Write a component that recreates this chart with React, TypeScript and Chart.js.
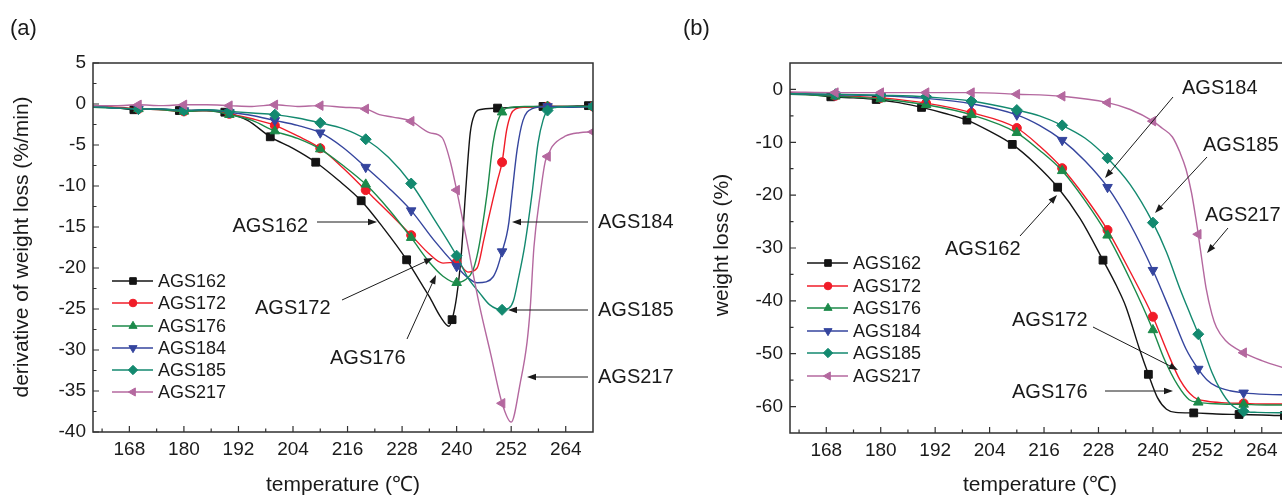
import React, { useEffect, useRef } from 'react';
import { Chart, registerables } from 'chart.js';
import { drawPoint } from 'chart.js/helpers';

Chart.register(...registerables);

const FONT = '"Liberation Sans", Arial, Helvetica, sans-serif';

const SERIES = ['AGS162', 'AGS172', 'AGS176', 'AGS184', 'AGS185', 'AGS217'];
const COLORS = ['#141414', '#f01c28', '#1c8a4a', '#35459e', '#13896f', '#b4689f'];
const STYLES = ['rect', 'circle', 'triangle', 'triangle', 'rectRot', 'triangle'];
const ROTATIONS = [0, 0, 0, 180, 0, 270];
const RADII = [5.5, 4.5, 5.5, 5.5, 5.5, 5.5];

const MARKS_BLACK = [169, 179, 189, 199, 209, 219, 229, 239, 249, 259, 269];
const MARKS = [170, 180, 190, 200, 210, 220, 230, 240, 250, 260, 270];

const X_TICKS = [168, 180, 192, 204, 216, 228, 240, 252, 264];
const Y_TICKS_A = [5, 0, -5, -10, -15, -20, -25, -30, -35, -40];
const Y_TICKS_B = [0, -10, -20, -30, -40, -50, -60];

// ---------- panel (a): derivative of weight loss (%/min) ----------
const A_T_162 = [160, 164, 169, 174, 179, 184, 189, 194, 199, 204, 209, 214, 219, 224, 229, 232, 234, 236.5, 238.3, 239, 240, 241, 242, 243, 244, 245, 249, 254, 259, 264, 269, 270];
const A_V_162 = [-0.3, -0.4, -0.7, -0.6, -0.8, -0.8, -1.0, -2.0, -4.0, -5.4, -7.1, -9.3, -11.8, -15.2, -19.0, -21.7, -23.5, -26.0, -27.1, -26.3, -23.5, -18.5, -10.5, -3.5, -1.2, -0.7, -0.5, -0.4, -0.3, -0.3, -0.2, -0.2];

const A_T_172 = [160, 165, 170, 175, 180, 185, 190, 195, 200, 205, 210, 215, 220, 225, 230, 234, 237, 240, 242.5, 244.5, 246, 247, 248, 249, 250, 251, 252, 253, 255, 260, 265, 270];
const A_V_172 = [-0.4, -0.4, -0.6, -0.7, -0.9, -0.8, -1.2, -1.8, -2.6, -3.9, -5.4, -7.8, -10.5, -13.2, -16.0, -18.3, -19.4, -19.3, -20.5, -20.0, -16.5, -14.0, -11.6, -9.3, -7.1, -3.2, -1.2, -0.6, -0.4, -0.3, -0.3, -0.3];

const A_T_176 = [160, 165, 170, 175, 180, 185, 190, 195, 200, 205, 210, 215, 220, 225, 230, 234, 237, 240, 242, 243.5, 244.5, 245.5, 246.7, 248, 249, 250, 251, 255, 260, 265, 270];
const A_V_176 = [-0.4, -0.5, -0.6, -0.7, -0.9, -0.8, -1.3, -2.0, -3.3, -4.2, -5.5, -7.5, -9.8, -12.8, -16.3, -19.3, -21.0, -21.8, -21.4, -20.4, -18.5, -15.5, -10.9, -4.8, -2.2, -1.0, -0.5, -0.3, -0.3, -0.3, -0.3];

const A_T_184 = [160, 165, 170, 175, 180, 185, 190, 195, 200, 205, 210, 215, 220, 225, 230, 235, 240, 242.5, 244.5, 246.5, 248, 249, 250, 251, 251.5, 252.2, 253.3, 254.6, 256.5, 260, 265, 270];
const A_V_184 = [-0.3, -0.5, -0.6, -0.6, -0.8, -0.7, -1.0, -1.4, -2.0, -2.6, -3.5, -5.3, -7.7, -10.2, -13.0, -16.6, -19.8, -21.2, -21.8, -21.7, -21.1, -19.9, -18.0, -16.0, -14.4, -10.9, -5.6, -2.0, -0.6, -0.3, -0.4, -0.3];

const A_T_185 = [160, 165, 170, 175, 180, 185, 190, 195, 200, 205, 210, 215, 220, 225, 230, 235, 240, 242.5, 245, 247.3, 250, 251.5, 252.5, 253.5, 255, 256.6, 257.9, 259, 260, 262, 265, 270];
const A_V_185 = [-0.3, -0.5, -0.6, -0.6, -0.8, -0.7, -0.9, -1.1, -1.3, -1.7, -2.3, -3.0, -4.3, -6.5, -9.7, -14.0, -18.5, -21.2, -23.0, -24.5, -25.1, -24.9, -24.0, -21.5, -17.2, -10.9, -4.8, -2.0, -0.8, -0.4, -0.3, -0.3];

const A_T_217 = [160, 165, 170, 175, 180, 185, 190, 195, 200, 205, 210, 215, 220, 223, 226, 230, 234, 236.8, 238.5, 240, 242, 245, 247.5, 250, 252, 254, 255.5, 256.2, 257, 258.4, 259.5, 260, 261, 264, 267, 270];
const A_V_217 = [-0.2, -0.2, -0.1, -0.2, -0.1, -0.1, -0.2, -0.3, -0.1, -0.3, -0.2, -0.4, -0.6, -1.3, -1.6, -2.1, -3.5, -4.1, -6.8, -10.5, -16.0, -24.5, -30.5, -36.5, -38.8, -34.0, -29.0, -24.8, -17.5, -11.0, -7.0, -6.4, -5.2, -3.9, -3.5, -3.4];

// ---------- panel (b): weight loss (%) ----------
const B_T_162 = [160, 164, 169, 174, 179, 184, 189, 194, 199, 204, 209, 214, 219, 224, 229, 232, 234, 237, 239, 241, 243, 245, 249, 254, 259, 264, 269, 270];
const B_V_162 = [-0.6, -0.9, -1.4, -1.6, -1.9, -2.5, -3.4, -4.5, -5.8, -7.9, -10.4, -14.0, -18.5, -24.5, -32.3, -37.2, -41.0, -49.0, -53.9, -58.3, -60.5, -61.1, -61.2, -61.4, -61.5, -61.6, -61.7, -61.7];

const B_T_172 = [160, 170, 180, 190, 200, 210, 215, 220, 225, 230, 235, 240, 243, 246, 249, 252, 256, 260, 265, 270];
const B_V_172 = [-0.8, -1.2, -1.6, -2.6, -4.4, -7.3, -10.7, -14.9, -20.3, -26.6, -34.5, -43.0, -49.3, -55.0, -58.2, -59.0, -59.3, -59.4, -59.5, -59.5];

const B_T_176 = [160, 170, 180, 190, 200, 210, 215, 220, 225, 230, 235, 240, 242.5, 245.5, 248, 250, 255, 260, 265, 270];
const B_V_176 = [-0.9, -1.3, -1.8, -2.9, -4.8, -8.2, -11.5, -15.4, -21.0, -27.6, -36.0, -45.5, -51.0, -56.0, -58.7, -59.2, -59.5, -59.6, -59.7, -59.7];

const B_T_184 = [160, 170, 180, 190, 200, 210, 215, 220, 225, 230, 235, 240, 244.3, 247.3, 250, 252, 254, 257, 260, 265, 270];
const B_V_184 = [-0.8, -1.0, -1.2, -1.7, -2.7, -4.8, -6.8, -9.6, -13.5, -18.5, -25.5, -34.2, -42.9, -49.1, -52.9, -55.0, -56.2, -57.0, -57.4, -57.7, -57.8];

const B_T_185 = [160, 170, 180, 190, 200, 210, 215, 220, 225, 230, 235, 240, 243, 246, 248.4, 250, 253, 255, 257, 260, 263, 270];
const B_V_185 = [-0.8, -0.9, -1.1, -1.4, -2.2, -3.9, -5.0, -6.8, -9.2, -13.0, -18.0, -25.2, -30.8, -37.8, -42.9, -46.3, -53.5, -57.0, -59.4, -60.9, -61.1, -61.2];

const B_T_217 = [160, 170, 180, 190, 200, 210, 220, 230, 235, 240, 242, 244.3, 246, 247.3, 248.5, 249.5, 250, 251, 251.7, 253, 254, 256, 260, 264, 270];
const B_V_217 = [-0.5, -0.6, -0.6, -0.6, -0.6, -0.9, -1.3, -2.5, -3.8, -6.0, -7.3, -9.0, -12.0, -15.1, -19.5, -24.6, -27.4, -33.5, -37.5, -42.5, -45.0, -47.5, -49.8, -51.3, -53.0];

type Ann = { text: string; tx: number; ty: number; align: CanvasTextAlign; x1: number; y1: number; x2: number; y2: number };

const PANELS = [
  {
    key: 'a', left: 0, width: 700, height: 496,
    padLeft: 33, padRight: 107, padTop: 63, padBottom: 24, yWidth: 60, xHeight: 40,
    yMin: -40, yMax: 5, yTicks: Y_TICKS_A,
    T: [A_T_162, A_T_172, A_T_176, A_T_184, A_T_185, A_T_217],
    V: [A_V_162, A_V_172, A_V_176, A_V_184, A_V_185, A_V_217],
    label: '(a)', labelX: 10, labelY: 29,
    yTitle: 'derivative of weight loss (%/min)', yTitleX: 22, yTitleY: 247,
    xTitle: 'temperature (\u2103)', xTitleX: 343, xTitleY: 485,
    legendX: 112, legendY: [281, 303, 326, 348, 370, 392],
    anns: [
      { text: 'AGS162', tx: 308, ty: 226, align: 'right', x1: 317, y1: 222, x2: 377, y2: 222 },
      { text: 'AGS172', tx: 255, ty: 308, align: 'left', x1: 342, y1: 300, x2: 433, y2: 258 },
      { text: 'AGS176', tx: 330, ty: 358, align: 'left', x1: 407, y1: 339, x2: 436, y2: 275 },
      { text: 'AGS184', tx: 598, ty: 222, align: 'left', x1: 588, y1: 222, x2: 512, y2: 222 },
      { text: 'AGS185', tx: 598, ty: 310, align: 'left', x1: 588, y1: 310, x2: 508, y2: 310 },
      { text: 'AGS217', tx: 598, ty: 377, align: 'left', x1: 588, y1: 377, x2: 527, y2: 377 },
    ] as Ann[],
  },
  {
    key: 'b', left: 680, width: 620, height: 496,
    padLeft: 60, padRight: 11, padTop: 63, padBottom: 23, yWidth: 50, xHeight: 40,
    yMin: -65, yMax: 5, yTicks: Y_TICKS_B,
    T: [B_T_162, B_T_172, B_T_176, B_T_184, B_T_185, B_T_217],
    V: [B_V_162, B_V_172, B_V_176, B_V_184, B_V_185, B_V_217],
    label: '(b)', labelX: 683, labelY: 29,
    yTitle: 'weight loss (%)', yTitleX: 722, yTitleY: 245,
    xTitle: 'temperature (\u2103)', xTitleX: 1040, xTitleY: 485,
    legendX: 807, legendY: [263, 286, 308, 331, 353, 376],
    anns: [
      { text: 'AGS184', tx: 1182, ty: 88, align: 'left', x1: 1173, y1: 97, x2: 1105, y2: 178 },
      { text: 'AGS185', tx: 1203, ty: 145, align: 'left', x1: 1207, y1: 157, x2: 1155, y2: 213 },
      { text: 'AGS217', tx: 1205, ty: 215, align: 'left', x1: 1228, y1: 228, x2: 1207, y2: 253 },
      { text: 'AGS162', tx: 945, ty: 249, align: 'left', x1: 1020, y1: 236, x2: 1057, y2: 195 },
      { text: 'AGS172', tx: 1012, ty: 320, align: 'left', x1: 1093, y1: 327, x2: 1178, y2: 370 },
      { text: 'AGS176', tx: 1012, ty: 392, align: 'left', x1: 1105, y1: 391, x2: 1173, y2: 391 },
    ] as Ann[],
  },
];

function minorTicks(major: number[], min: number, max: number): number[] {
  const step = Math.abs(major[1] - major[0]) / 2;
  const out: number[] = [];
  major.forEach((m) => {
    [m - step, m + step].forEach((v) => {
      if (v > min && v < max && !major.includes(v) && !out.includes(v)) out.push(v);
    });
  });
  return out;
}

function arrow(ctx: CanvasRenderingContext2D, x1: number, y1: number, x2: number, y2: number) {
  const ang = Math.atan2(y2 - y1, x2 - x1);
  const len = 9, hw = 3.2;
  ctx.beginPath();
  ctx.moveTo(x1, y1);
  ctx.lineTo(x2 - Math.cos(ang) * (len - 1), y2 - Math.sin(ang) * (len - 1));
  ctx.stroke();
  ctx.beginPath();
  ctx.moveTo(x2, y2);
  ctx.lineTo(x2 - Math.cos(ang) * len - Math.sin(ang) * hw, y2 - Math.sin(ang) * len + Math.cos(ang) * hw);
  ctx.lineTo(x2 - Math.cos(ang) * len + Math.sin(ang) * hw, y2 - Math.sin(ang) * len - Math.cos(ang) * hw);
  ctx.closePath();
  ctx.fill();
}

function makeOverlay(p: any) {
  return {
    id: 'overlay' + p.key,
    afterDraw(chart: any) {
      const ctx: CanvasRenderingContext2D = chart.ctx;
      const { left, right, top, bottom } = chart.chartArea;
      const xs = chart.scales.x, ys = chart.scales.y;
      const ox = p.left;
      ctx.save();
      // frame
      ctx.strokeStyle = '#303030';
      ctx.lineWidth = 1.5;
      ctx.strokeRect(left, top, right - left, bottom - top);
      // ticks
      ctx.lineWidth = 1.2;
      ctx.beginPath();
      X_TICKS.forEach((v) => { const x = xs.getPixelForValue(v); ctx.moveTo(x, bottom); ctx.lineTo(x, bottom - 6); });
      minorTicks(X_TICKS, 160, 270).forEach((v) => { const x = xs.getPixelForValue(v); ctx.moveTo(x, bottom); ctx.lineTo(x, bottom - 3.5); });
      p.yTicks.forEach((v: number) => { const y = ys.getPixelForValue(v); ctx.moveTo(left, y); ctx.lineTo(left + 6, y); });
      minorTicks(p.yTicks, p.yMin, p.yMax).forEach((v) => { const y = ys.getPixelForValue(v); ctx.moveTo(left, y); ctx.lineTo(left + 3.5, y); });
      ctx.stroke();

      ctx.fillStyle = '#1a1a1a';
      ctx.textBaseline = 'middle';
      // panel label
      ctx.font = `22px ${FONT}`;
      ctx.textAlign = 'left';
      ctx.fillText(p.label, p.labelX - ox, p.labelY);
      // axis titles
      ctx.font = `21px ${FONT}`;
      ctx.textAlign = 'center';
      ctx.fillText(p.xTitle, p.xTitleX - ox, p.xTitleY);
      ctx.save();
      ctx.translate(p.yTitleX - ox, p.yTitleY);
      ctx.rotate(-Math.PI / 2);
      ctx.fillText(p.yTitle, 0, 0);
      ctx.restore();

      // annotations
      ctx.font = `20px ${FONT}`;
      ctx.strokeStyle = '#1a1a1a';
      ctx.lineWidth = 1;
      p.anns.forEach((a: Ann) => {
        ctx.textAlign = a.align;
        ctx.fillText(a.text, a.tx - ox, a.ty);
        arrow(ctx, a.x1 - ox, a.y1, a.x2 - ox, a.y2);
      });

      // legend
      ctx.font = `18px ${FONT}`;
      ctx.textAlign = 'left';
      SERIES.forEach((name, i) => {
        const y = p.legendY[i];
        const x0 = p.legendX - ox;
        ctx.strokeStyle = COLORS[i];
        ctx.fillStyle = COLORS[i];
        ctx.lineWidth = 1.4;
        ctx.beginPath();
        ctx.moveTo(x0, y);
        ctx.lineTo(x0 + 41, y);
        ctx.stroke();
        ctx.lineWidth = 1;
        drawPoint(ctx, { pointStyle: STYLES[i], rotation: ROTATIONS[i], radius: RADII[i] * 0.85, borderWidth: 1 } as any, x0 + 21, y);
        ctx.fillStyle = '#1a1a1a';
        ctx.fillText(name, x0 + 46, y + 1);
      });
      ctx.restore();
    },
  };
}

function Panel({ p }: { p: any }) {
  const ref = useRef<HTMLCanvasElement>(null);
  useEffect(() => {
    if (!ref.current) return;
    const datasets = SERIES.map((name, i) => {
      const marks = i === 0 ? MARKS_BLACK : MARKS;
      const T: number[] = p.T[i];
      const V: number[] = p.V[i];
      return {
        label: name,
        data: T.map((t, k) => ({ x: t, y: V[k] })),
        borderColor: COLORS[i],
        backgroundColor: COLORS[i],
        borderWidth: 1.4,
        cubicInterpolationMode: 'monotone' as const,
        pointStyle: STYLES[i],
        pointRotation: ROTATIONS[i],
        pointRadius: (c: any) => (c.raw && marks.includes(c.raw.x) ? RADII[i] : 0),
        pointHoverRadius: 0,
        pointBackgroundColor: COLORS[i],
        pointBorderColor: COLORS[i],
        pointBorderWidth: 1,
        order: SERIES.length - 1 - i,
      };
    });
    const chart = new Chart(ref.current, {
      type: 'line',
      data: { datasets } as any,
      options: {
        animation: false,
        responsive: false,
        events: [],
        layout: { padding: { left: p.padLeft, right: p.padRight, top: p.padTop, bottom: p.padBottom } },
        plugins: { legend: { display: false }, tooltip: { enabled: false } },
        scales: {
          x: {
            type: 'linear', min: 160, max: 270,
            afterBuildTicks: (s: any) => { s.ticks = X_TICKS.map((v) => ({ value: v })); },
            afterFit: (s: any) => { s.height = p.xHeight; },
            grid: { display: false, drawTicks: false },
            border: { display: false },
            ticks: { font: { family: FONT, size: 19 }, color: '#1a1a1a', padding: 6, maxRotation: 0, autoSkip: false, callback: (v: any) => String(v) },
          },
          y: {
            type: 'linear', min: p.yMin, max: p.yMax,
            afterBuildTicks: (s: any) => { s.ticks = p.yTicks.map((v: number) => ({ value: v })); },
            afterFit: (s: any) => { s.width = p.yWidth; },
            grid: { display: false, drawTicks: false },
            border: { display: false },
            ticks: { font: { family: FONT, size: 19 }, color: '#1a1a1a', padding: 7, autoSkip: false, callback: (v: any) => String(v) },
          },
        },
      } as any,
      plugins: [makeOverlay(p)],
    });
    return () => chart.destroy();
  }, [p]);
  return (
    <canvas
      ref={ref}
      width={p.width}
      height={p.height}
      style={{ position: 'absolute', left: p.left, top: 0, width: p.width, height: p.height }}
    />
  );
}

export default function App() {
  return (
    <div style={{ position: 'fixed', left: 0, top: 0, width: 1282, height: 496, overflow: 'hidden', background: '#fff' }}>
      {PANELS.map((p) => (
        <Panel key={p.key} p={p} />
      ))}
    </div>
  );
}
